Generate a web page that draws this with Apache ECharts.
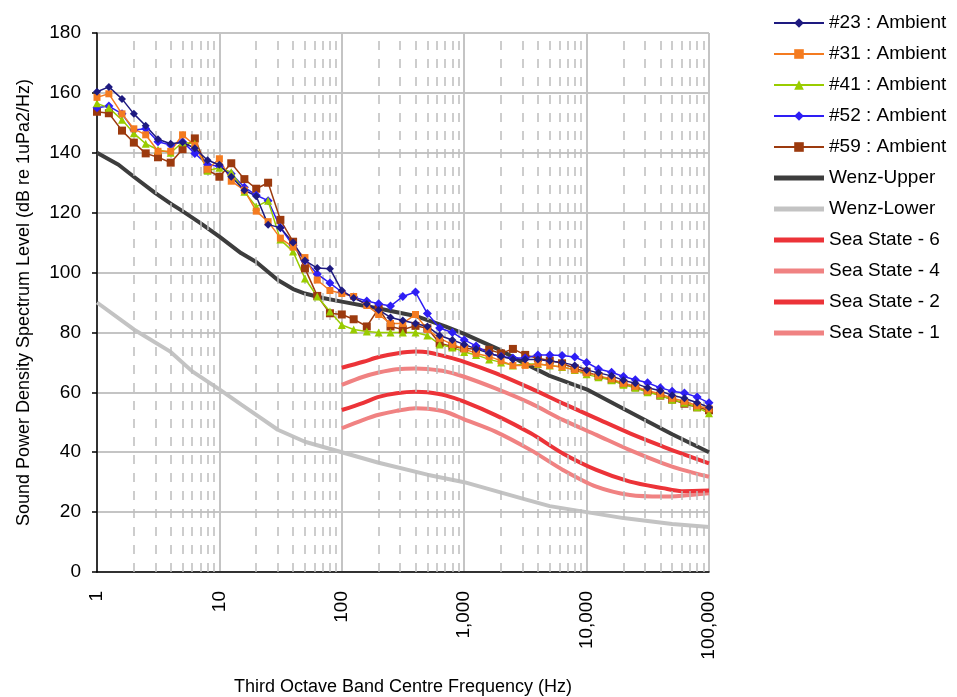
<!DOCTYPE html>
<html><head><meta charset="utf-8">
<script src="https://cdn.jsdelivr.net/npm/echarts@6/dist/echarts.min.js"></script>
<style>html,body{margin:0;padding:0;background:#fff}#c{width:957px;height:697px}</style>
</head><body><div id="c"></div>
<script>
// Third-octave band centre frequencies (Hz)
const freqs = [1,1.25,1.6,2,2.5,3.15,4,5,6.3,8,10,12.5,16,20,25,31.5,40,50,63,80,100,125,160,200,250,315,400,500,630,800,1000,1250,1600,2000,2500,3150,4000,5000,6300,8000,10000,12500,16000,20000,25000,31500,40000,50000,63000,80000,100000];

const amb23 = [160.4,162,158,153,149,144.5,143,143.5,141.5,137.5,136,132,127.5,125.5,116,115,110,104,101.5,101.3,94,91.5,89.5,87.5,85,84,83,82,79,77.5,76,74.5,73,72,71,71,71,70.5,70,69,67.5,66.5,65.5,64,63,61.5,60.5,59,58,56.5,55];
const amb31 = [158.5,159.7,153,148,146,140.5,140.5,146,142.5,134.5,138,130.5,127.5,120.5,117,111.5,108.5,105,97.5,94,93,92,89,86,83,83,86,81,78,76,74.5,73,72,70.5,69,69,69.5,69,68.5,67.5,66.5,65.5,64.5,63,62,60.5,59.5,58,57,55.5,54.5];
const amb41 = [156.5,155,151,146.5,143,141,140,143.5,143,134,135,133.5,127,122,124,111,107,98,92,87,82.5,81,80.3,80,80,80,80,79,76,75,73.5,72.5,71,70,69,69.5,69.5,69,68.5,67.5,66,65,64,62.5,61.5,60,59,57.5,56.5,55,53];
const amb52 = [155,155.6,153,147.6,148,143.7,142.6,143.7,139.8,136,135.5,133,128.5,125.8,124,115,109,104,99.5,96.5,93.5,91.8,90.5,89.6,88.8,92,93.5,86.3,81.5,80,77.5,75.5,73,72,71.5,71.5,72.5,72.5,72.3,71.8,70,67.8,66.7,65.3,64.2,63.2,61.5,60.4,59.8,58.4,56.5];
const amb59 = [153.7,153.2,147.4,143.4,139.8,138.5,136.7,141.2,144.8,134.3,132,136.5,131.2,128,130,117.6,110.3,101.4,92.2,86.4,86,84.4,82,88,82,81,82.2,81.4,76.4,75.3,74.7,74.4,74.2,73,74.5,72.5,71.4,70.6,69.7,68,66.9,65.4,64.2,62.9,61.7,60.4,58.9,57.6,56.2,55,54];

// Wenz curves
const wenzUpperF = [1,1.5,2,3,4,5,7,10,15,20,30,40,50,70,100,200,400,700,1000,2000,3000,5000,10000,20000,50000,100000];
const wenzUpperV = [140,136,132,126.5,123,120.5,116.5,112,106.5,103.5,97.5,94.5,93,91.5,90.3,88,85.5,82,79.5,74,70,65.5,61,54.5,46,40];
const wenzLowerF = [1,2,4,6,10,15,20,30,50,100,200,500,1000,3000,5000,10000,20000,50000,100000];
const wenzLowerV = [90,81,73.5,67,61,56,52.5,47.5,43.5,40,36.5,32.5,30,24.5,22,20,18,16,15];

// Sea state curves
const seaF = [100,150,200,280,400,500,700,1000,1800,3500,6400,12000,22600,42000,60000,100000];
const sea6 = [68.2,70.2,71.8,73,73.6,73.4,72,70.2,66.4,61.3,56.3,51.3,46.3,41.9,39.5,36.3];
const sea4 = [62.5,65.2,66.6,67.7,68,67.8,67,65.2,61.3,56.3,50.8,45.8,40.7,36.3,34.2,31.8];
const sea2 = [54.1,56.5,58.5,59.7,60.2,60,59,56.9,52.4,46.3,39.6,34.1,30.2,28,27,27.2];
const sea1 = [48,50.8,52.5,53.8,54.7,54.5,53.5,51,46.9,40.7,34.1,28.5,25.7,25.2,25.5,26.3];

// Minor grid frequencies (2..9 in each decade)
const minorGrid = [];
[1,10,100,1000,10000].forEach(d => { for (let k = 2; k <= 9; k++) minorGrid.push(d * k); });

const FONT = "'Liberation Sans', Arial, sans-serif";
const pairs = (f, v) => f.map((x, i) => [x, v[i]]);
// thick bar legend icon (keeps a 12px-high box, draws a 5px bar in the middle)
const BAR_ICON = 'path://M0,0L0,0.01ZM0,3.5H50V8.5H0ZM50,12L50,11.99Z';

const chart = echarts.init(document.getElementById('c'), null, {renderer: 'canvas'});

function amb(name, data, color, symbol, size) {
  return {name, type: 'line', data: pairs(freqs, data), symbol, symbolSize: size,
    lineStyle: {color, width: 1.5}, itemStyle: {color}, z: 5, animation: false};
}
function thick(name, f, v, color, smooth) {
  return {name, type: 'line', data: pairs(f, v), showSymbol: false, symbol: 'none', smooth: smooth || false,
    lineStyle: {color, width: 4}, itemStyle: {color}, z: 3, animation: false};
}

const option = {
  animation: false,
  backgroundColor: '#fff',
  textStyle: {fontFamily: FONT},
  grid: {left: 97, right: 248, top: 33, bottom: 125, containLabel: false, outerBoundsMode: 'none'},
  xAxis: {
    type: 'log', logBase: 10, min: 1, max: 100000,
    name: 'Third Octave Band Centre Frequency (Hz)', nameLocation: 'middle', nameGap: 106,
    nameTextStyle: {fontSize: 18, color: '#000', fontFamily: FONT},
    axisLine: {show: true, lineStyle: {color: '#000', width: 1.5}},
    axisTick: {show: false},
    axisLabel: {rotate: 90, fontSize: 19, color: '#000', fontFamily: FONT, margin: 19,
      formatter: v => Number(v).toLocaleString('en-US')},
    splitLine: {show: true, lineStyle: {color: '#C4C4C4', width: 2}},
    minorTick: {show: false}, minorSplitLine: {show: false}
  },
  yAxis: {
    type: 'value', min: 0, max: 180, interval: 20,
    name: 'Sound Power Density Spectrum Level (dB re 1uPa2/Hz)', nameLocation: 'middle', nameGap: 64,
    nameTextStyle: {fontSize: 18, color: '#000', fontFamily: FONT},
    axisLine: {show: true, lineStyle: {color: '#000', width: 1.5}},
    axisTick: {show: true, inside: false, length: 5, lineStyle: {color: '#000', width: 1.5}},
    axisLabel: {fontSize: 19, color: '#000', fontFamily: FONT, margin: 16},
    splitLine: {show: true, lineStyle: {color: '#C4C4C4', width: 2}}
  },
  legend: {
    orient: 'vertical', left: 773, top: 13, padding: 0,
    itemWidth: 50, itemHeight: 12, itemGap: 11,
    textStyle: {fontSize: 19, color: '#000', fontFamily: FONT, lineHeight: 20},
    data: [
      {name: '#23 : Ambient'}, {name: '#31 : Ambient'}, {name: '#41 : Ambient'},
      {name: '#52 : Ambient'}, {name: '#59 : Ambient'},
      {name: 'Wenz-Upper', icon: BAR_ICON}, {name: 'Wenz-Lower', icon: BAR_ICON},
      {name: 'Sea State - 6', icon: BAR_ICON}, {name: 'Sea State - 4', icon: BAR_ICON},
      {name: 'Sea State - 2', icon: BAR_ICON}, {name: 'Sea State - 1', icon: BAR_ICON}
    ]
  },
  series: [
    {name: 'grid-minor', type: 'line', data: [], z: 1, silent: true,
      markLine: {silent: true, symbol: 'none', label: {show: false}, animation: false,
        lineStyle: {color: '#BDBDBD', width: 1.5, type: [9, 9]},
        data: minorGrid.map(f => ({xAxis: f}))}},
    thick('Wenz-Lower', wenzLowerF, wenzLowerV, '#C3C3C3'),
    thick('Wenz-Upper', wenzUpperF, wenzUpperV, '#3D3D3D'),
    thick('Sea State - 1', seaF, sea1, '#F08282', 0.3),
    thick('Sea State - 2', seaF, sea2, '#EC3338', 0.3),
    thick('Sea State - 4', seaF, sea4, '#F08282', 0.3),
    thick('Sea State - 6', seaF, sea6, '#EC3338', 0.3),
    amb('#59 : Ambient', amb59, '#9C3A0E', 'rect', 8),
    amb('#52 : Ambient', amb52, '#2E1EF5', 'diamond', 9),
    amb('#41 : Ambient', amb41, '#99CC00', 'triangle', 8),
    amb('#31 : Ambient', amb31, '#F47B20', 'rect', 7),
    amb('#23 : Ambient', amb23, '#1E1A80', 'diamond', 8)
  ]
};
chart.setOption(option);
</script></body></html>
